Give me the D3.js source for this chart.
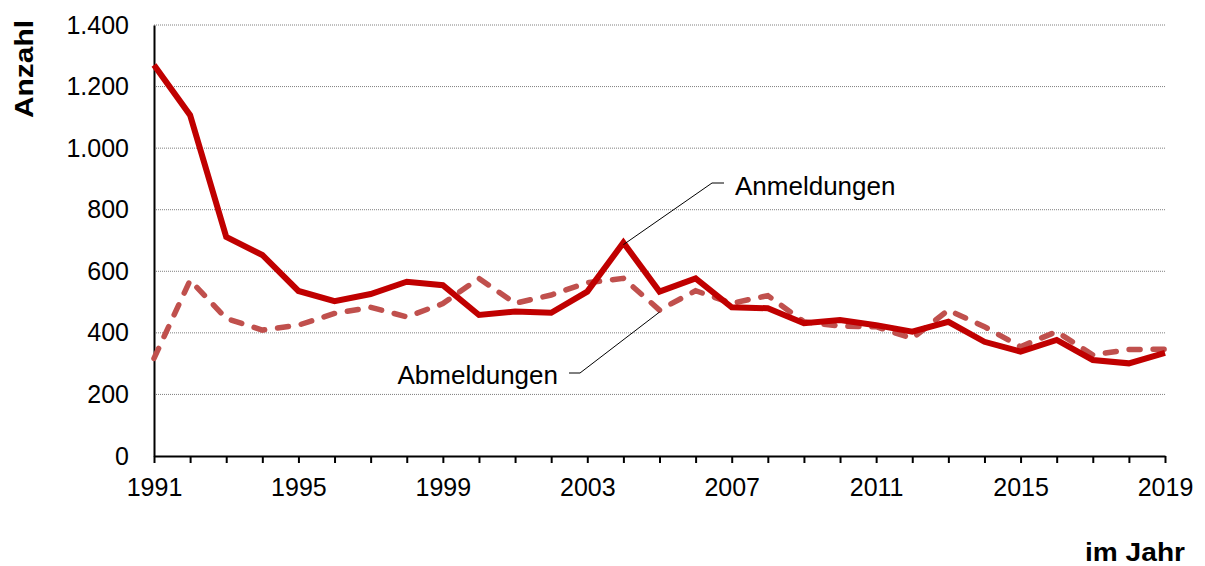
<!doctype html>
<html lang="de">
<head>
<meta charset="UTF-8">
<title>Anmeldungen und Abmeldungen</title>
<style>
  body { margin: 0; background: #fff; }
  text { font-family: "Liberation Sans", Arial, sans-serif; }
</style>
</head>
<body>
<div class="container"></div>
<script src="https://d3js.org/d3.v7.min.js"></script>
<script>
  const years = d3.range(1991, 2020);
  const anmeldungen = [1270, 1107, 712, 653, 536, 503, 526, 566, 555, 458, 469, 465, 534, 693, 534,
    577, 483, 480, 431, 442, 425, 404, 436, 371, 339, 377, 312, 301, 335];
  const abmeldungen = [317, 571, 447, 409, 425, 463, 483, 452, 495, 577, 496, 523, 563, 577, 474,
    537, 496, 521, 436, 422, 420, 382, 474, 420, 355, 404, 328, 346, 347];
  const yTicks = [0, 200, 400, 600, 800, 1000, 1200, 1400];
  const xTickLabels = [1991, 1995, 1999, 2003, 2007, 2011, 2015, 2019];

  const WIDTH = 1205, HEIGHT = 566;
  const LEFT = 154, RIGHT = 1165, TOP = 25, BOTTOM = 456;
  const FONT = '"Liberation Sans", Arial, sans-serif';

  const svg = d3.select('.container').append('svg')
    .attr('width', WIDTH)
    .attr('height', HEIGHT);

  const x = d3.scaleLinear().domain([1991, 2019]).range([LEFT, RIGHT]);
  const y = d3.scaleLinear().domain([0, 1400]).range([BOTTOM, TOP]);

  // gridlines
  svg.append('g').selectAll('line')
    .data(yTicks.filter(d => d > 0))
    .join('line')
    .attr('x1', LEFT).attr('x2', RIGHT)
    .attr('y1', d => y(d)).attr('y2', d => y(d))
    .attr('stroke', '#7f7f7f')
    .attr('stroke-width', 1)
    .attr('stroke-dasharray', '1,1');

  // y axis
  const yAxis = d3.axisLeft(y).tickValues(yTicks).tickSize(0).tickPadding(25)
    .tickFormat(d => d3.format(',')(d).replace(/,/g, '.'));
  const yg = svg.append('g').attr('transform', `translate(${LEFT},0)`).call(yAxis);
  yg.select('.domain').attr('stroke', '#000').attr('stroke-width', 2);
  yg.selectAll('text').attr('font-size', 25).attr('fill', '#000').attr('font-family', FONT);

  // x axis
  const xAxis = d3.axisBottom(x).tickValues(years).tickSize(7).tickSizeOuter(0)
    .tickFormat(d => xTickLabels.includes(d) ? d : '');
  const xg = svg.append('g').attr('transform', `translate(0,${BOTTOM})`).call(xAxis);
  xg.select('.domain').attr('stroke', '#000').attr('stroke-width', 2);
  xg.selectAll('line').attr('stroke', '#000').attr('stroke-width', 2);
  xg.selectAll('text').attr('font-size', 25).attr('fill', '#000')
    .attr('y', 40).attr('dy', null).attr('font-family', FONT);

  const line = d3.line().x((d, i) => x(years[i])).y(d => y(d));

  svg.append('path')
    .datum(abmeldungen)
    .attr('d', line)
    .attr('fill', 'none')
    .attr('stroke', '#C0504D')
    .attr('stroke-width', 5.5)
    .attr('stroke-linecap', 'round')
    .attr('stroke-dasharray', '11,13');

  svg.append('path')
    .datum(anmeldungen)
    .attr('d', line)
    .attr('fill', 'none')
    .attr('stroke', '#C00000')
    .attr('stroke-width', 6)
    .attr('stroke-linejoin', 'miter');

  // annotations
  const i04 = years.indexOf(2004);
  svg.append('polyline')
    .attr('points', `${x(2004)},${y(anmeldungen[i04]) + 2} 712,183 724,183`)
    .attr('fill', 'none').attr('stroke', '#000').attr('stroke-width', 1);
  svg.append('text').attr('x', 735).attr('y', 195).attr('font-size', 26).text('Anmeldungen');

  const i05 = years.indexOf(2005);
  svg.append('polyline')
    .attr('points', `569,373 580,373 ${x(2005)},${y(abmeldungen[i05]) + 2}`)
    .attr('fill', 'none').attr('stroke', '#000').attr('stroke-width', 1);
  svg.append('text').attr('x', 558).attr('y', 384).attr('font-size', 26)
    .attr('text-anchor', 'end').text('Abmeldungen');

  // axis titles
  svg.append('text')
    .attr('transform', 'translate(33,69) rotate(-90)')
    .attr('text-anchor', 'middle')
    .attr('font-size', 26).attr('font-weight', 'bold')
    .attr('textLength', 98).attr('lengthAdjust', 'spacingAndGlyphs')
    .text('Anzahl');
  svg.append('text')
    .attr('x', 1185).attr('y', 561)
    .attr('text-anchor', 'end')
    .attr('font-size', 25).attr('font-weight', 'bold')
    .attr('textLength', 100).attr('lengthAdjust', 'spacingAndGlyphs')
    .text('im Jahr');
</script>
</body>
</html>
